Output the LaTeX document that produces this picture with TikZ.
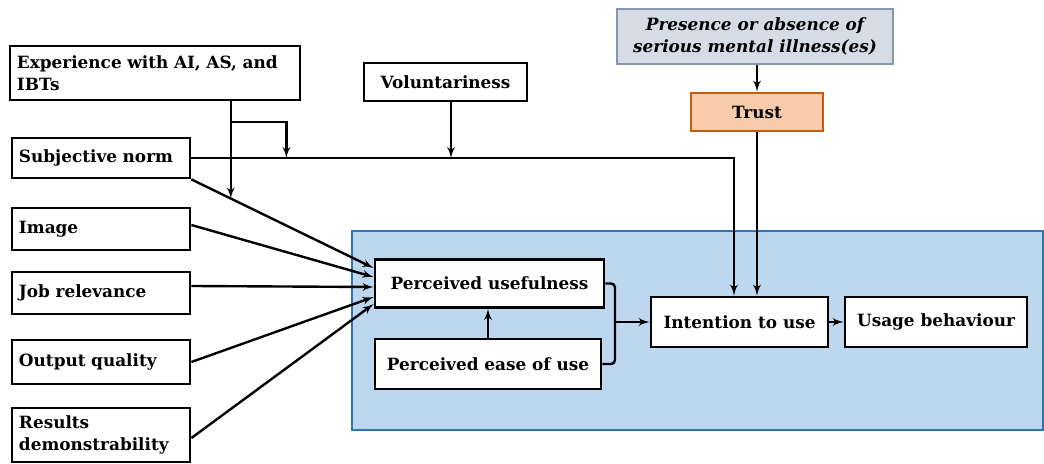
\documentclass[tikz,border=0pt]{standalone}
\usepackage{fontspec}
\setmainfont{DejaVu Serif}
\usetikzlibrary{calc,positioning,arrows}
\newdimen\px \px=0.025cm
\definecolor{panelfill}{RGB}{189,215,238}
\definecolor{panelline}{RGB}{46,117,182}
\definecolor{presfill}{RGB}{214,220,229}
\definecolor{presline}{RGB}{132,151,176}
\definecolor{trustfill}{RGB}{248,203,173}
\definecolor{trustline}{RGB}{197,90,17}

\begin{document}
\begin{tikzpicture}[>=latex', x=0.025cm, y=-0.025cm, line width=1.7pt]
      \tikzset{
	  boxfont/.style={font=\bfseries\fontsize{12}{15.6}\selectfont},
	  factor/.style={draw, line width=2pt, fill=white, boxfont, align=left, inner xsep=7\px, inner ysep=0pt, text width=164\px, minimum height=42\px},
	  tam/.style={draw, line width=2pt, fill=white, boxfont, inner sep=0pt, minimum height=#1},
	  tam/.default=48\px,
	  panel/.style={fill=panelfill, draw=panelline, line width=1.8pt},
      }
      \useasboundingbox (0,0) rectangle (1044,464);

      \draw[panel] (352,231) rectangle (1043,430);

      % external variables
      \node (exp) at (155,73) [factor, text width=276\px, minimum height=54\px] {Experience with AI, AS, and\\IBTs};
      \node (subj) at (101,158) [factor, minimum height=40\px] {Subjective norm};
      \node (image) at (101,229) [factor] {Image};
      \node (job) at (101,293) [factor] {Job relevance};
      \node (output) at (101,362) [factor, minimum height=44\px] {Output quality};
      \node (results) at (101,435) [factor, minimum height=54\px] {Results\\demonstrability};
      \node (vol) at (445.5,82) [tam=38\px, minimum width=163\px] {Voluntariness};
      \node (pres) at (755,36.5) [tam=55\px, minimum width=276\px, fill=presfill, draw=presline, align=center, font=\bfseries\itshape\fontsize{12}{15.6}\selectfont] {Presence or absence of\\serious mental illness(es)};
      \node (trust) at (757,112) [tam=38\px, minimum width=132\px, fill=trustfill, draw=trustline] {Trust};

      % TAM core
      \node (pu) at (489.5,283.5) [tam, minimum width=229\px] {Perceived usefulness};
      \node (peou) at (488,364) [tam=50\px, minimum width=226\px] {Perceived ease of use};
      \node (itu) at (739.5,322) [tam=50\px, minimum width=177\px] {Intention to use};
      \node (ub) at (936,322) [tam=50\px, minimum width=182\px] {Usage behaviour};

      \path (subj.south east) -- ($(pu.west)+(0,-15.5)$) coordinate[pos=0.216] (k);
      \coordinate (br) at (230,122);
      \coordinate (brk) at (615,322);
      \coordinate (volout) at ($(vol.south)+(5.5,0)$);

      \draw[->] (exp.south -| k) -- (k);
      \draw[->] (br) -| ($(subj.east)+(95,0)$);
      \draw[->] (subj.east) -| ([xshift=-5.5\px]itu.north);
      \draw[->] (volout) -- (volout |- subj.east);
      \draw[->] (pres.south -| trust.north) -- (trust.north);
      \draw[->] (trust.south) -- (trust.south |- itu.north);

      \draw[->] (subj.south east) -- ($(pu.west)+(0,-15.5)$);
      \draw[->] ($(image.east)+(0,-4)$) -- ($(pu.west)+(0,-6.5)$);
      \draw[->] ($(job.east)+(0,-7)$) -- ($(pu.west)+(0,3.5)$);
      \draw[->] (output.east) -- ($(pu.west)+(0,13.5)$);
      \draw[->] ($(results.east)+(0,3)$) -- ($(pu.west)+(0,20.5)$);

      \draw[->] (peou.north) -- (peou.north |- pu.south);
      \draw[rounded corners=4\px] (pu.east) -- (pu.east -| brk) -- (peou.east -| brk) -- (peou.east);
      \draw[->] (brk) -- (itu.west);
      \draw[->] (itu) -- (ub);
\end{tikzpicture}
\end{document}
